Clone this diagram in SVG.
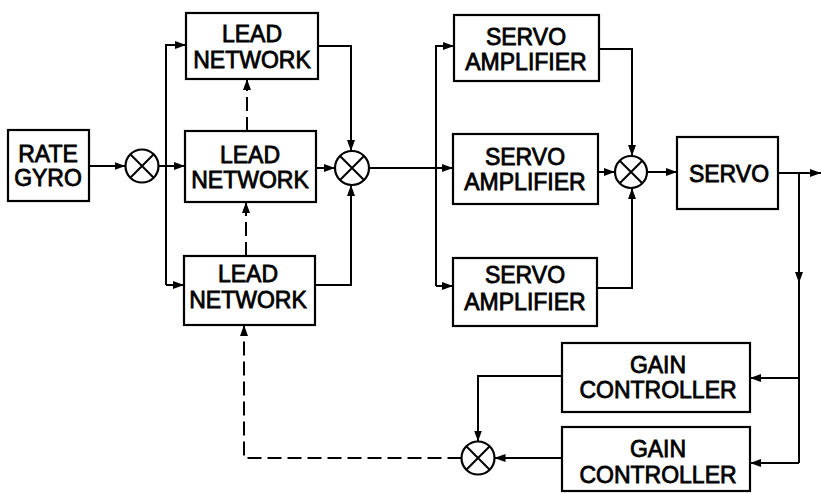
<svg xmlns="http://www.w3.org/2000/svg" width="821" height="494" viewBox="0 0 821 494">
<style>
.box{fill:#fff;stroke:#000;stroke-width:2.2}
.sum{fill:#fff;stroke:#000;stroke-width:2.2}
.x{stroke:#000;stroke-width:2}
.c{fill:none;stroke:#000;stroke-width:2}
.d{fill:none;stroke:#000;stroke-width:2;stroke-dasharray:14 6}
text{font-family:"Liberation Sans",Arial,sans-serif;font-size:23px;fill:#000;stroke:#000;stroke-width:0.8;text-anchor:middle}
</style>
<defs>
<marker id="ah" markerUnits="userSpaceOnUse" markerWidth="11" markerHeight="8" refX="11" refY="4" orient="auto">
<path d="M0,0 L11,4 L0,8 z" fill="#000"/>
</marker>
</defs>
<rect width="821" height="494" fill="#fff"/>
<g id="connectors">
<path class="c" d="M89,166 H125.5" marker-end="url(#ah)"/>
<path class="c" d="M158.5,166 H185" marker-end="url(#ah)"/>
<path class="c" d="M166,285 V45 H186" marker-end="url(#ah)"/>
<path class="c" d="M166,285 H184" marker-end="url(#ah)"/>
<path class="c" d="M318,46 H351 V151" marker-end="url(#ah)"/>
<path class="c" d="M316,168 H335" marker-end="url(#ah)"/>
<path class="c" d="M315,285 H351 V185" marker-end="url(#ah)"/>
<path class="c" d="M369,168 H453" marker-end="url(#ah)"/>
<path class="c" d="M436,286 V46 H454" marker-end="url(#ah)"/>
<path class="c" d="M436,286 H453" marker-end="url(#ah)"/>
<path class="c" d="M599,49 H632 V156" marker-end="url(#ah)"/>
<path class="c" d="M598,172 H615" marker-end="url(#ah)"/>
<path class="c" d="M597,288 H632 V188" marker-end="url(#ah)"/>
<path class="c" d="M647,172 H677" marker-end="url(#ah)"/>
<path class="c" d="M778,173 H821" marker-end="url(#ah)"/>
<path class="c" d="M799,173 V283" marker-end="url(#ah)"/>
<path class="c" d="M799,281 V463"/>
<path class="c" d="M799,378 H750" marker-end="url(#ah)"/>
<path class="c" d="M799,463 H750" marker-end="url(#ah)"/>
<path class="c" d="M562,376 H478 V441.5" marker-end="url(#ah)"/>
<path class="c" d="M562,458 H494.5" marker-end="url(#ah)"/>
<path class="d" d="M461.5,458 H244 V325" marker-end="url(#ah)"/>
<path class="d" d="M247,131 V79" marker-end="url(#ah)"/>
<path class="d" d="M246,256 V202" marker-end="url(#ah)"/>
</g>
<g id="rate-gyro">
<rect class="box" x="8" y="130" width="81" height="71"/>
<text x="48" y="162">RATE</text>
<text x="48" y="186">GYRO</text>
</g>
<g id="sum1">
<circle class="sum" cx="142" cy="166" r="16.5"/>
<path class="x" d="M130.3,154.3 L153.7,177.7 M153.7,154.3 L130.3,177.7"/>
</g>
<g id="lead-network-top">
<rect class="box" x="186" y="13" width="132" height="66"/>
<text x="252" y="42">LEAD</text>
<text x="252" y="68">NETWORK</text>
</g>
<g id="lead-network-mid">
<rect class="box" x="185" y="131" width="131" height="71"/>
<text x="250" y="163">LEAD</text>
<text x="250" y="188">NETWORK</text>
</g>
<g id="lead-network-bot">
<rect class="box" x="184" y="256" width="131" height="69"/>
<text x="248" y="282">LEAD</text>
<text x="248" y="308">NETWORK</text>
</g>
<g id="sum2">
<circle class="sum" cx="352" cy="168" r="17"/>
<path class="x" d="M340,156 L364,180 M364,156 L340,180"/>
</g>
<g id="servo-amp-top">
<rect class="box" x="454" y="15" width="145" height="66"/>
<text x="526" y="45">SERVO</text>
<text x="526" y="70">AMPLIFIER</text>
</g>
<g id="servo-amp-mid">
<rect class="box" x="453" y="134" width="145" height="70"/>
<text x="525" y="165">SERVO</text>
<text x="525" y="190">AMPLIFIER</text>
</g>
<g id="servo-amp-bot">
<rect class="box" x="453" y="258" width="144" height="68"/>
<text x="525" y="283">SERVO</text>
<text x="525" y="310">AMPLIFIER</text>
</g>
<g id="sum3">
<circle class="sum" cx="631" cy="172" r="16"/>
<path class="x" d="M619.7,160.7 L642.3,183.3 M642.3,160.7 L619.7,183.3"/>
</g>
<g id="servo">
<rect class="box" x="677" y="137" width="101" height="72"/>
<text x="729" y="182">SERVO</text>
</g>
<g id="gain-controller-top">
<rect class="box" x="562" y="343" width="188" height="69"/>
<text x="658" y="373">GAIN</text>
<text x="658" y="398">CONTROLLER</text>
</g>
<g id="gain-controller-bot">
<rect class="box" x="562" y="427" width="188" height="64"/>
<text x="658" y="457">GAIN</text>
<text x="658" y="483">CONTROLLER</text>
</g>
<g id="sum4">
<circle class="sum" cx="478" cy="458" r="16.5"/>
<path class="x" d="M466.3,446.3 L489.7,469.7 M489.7,446.3 L466.3,469.7"/>
</g>
</svg>
